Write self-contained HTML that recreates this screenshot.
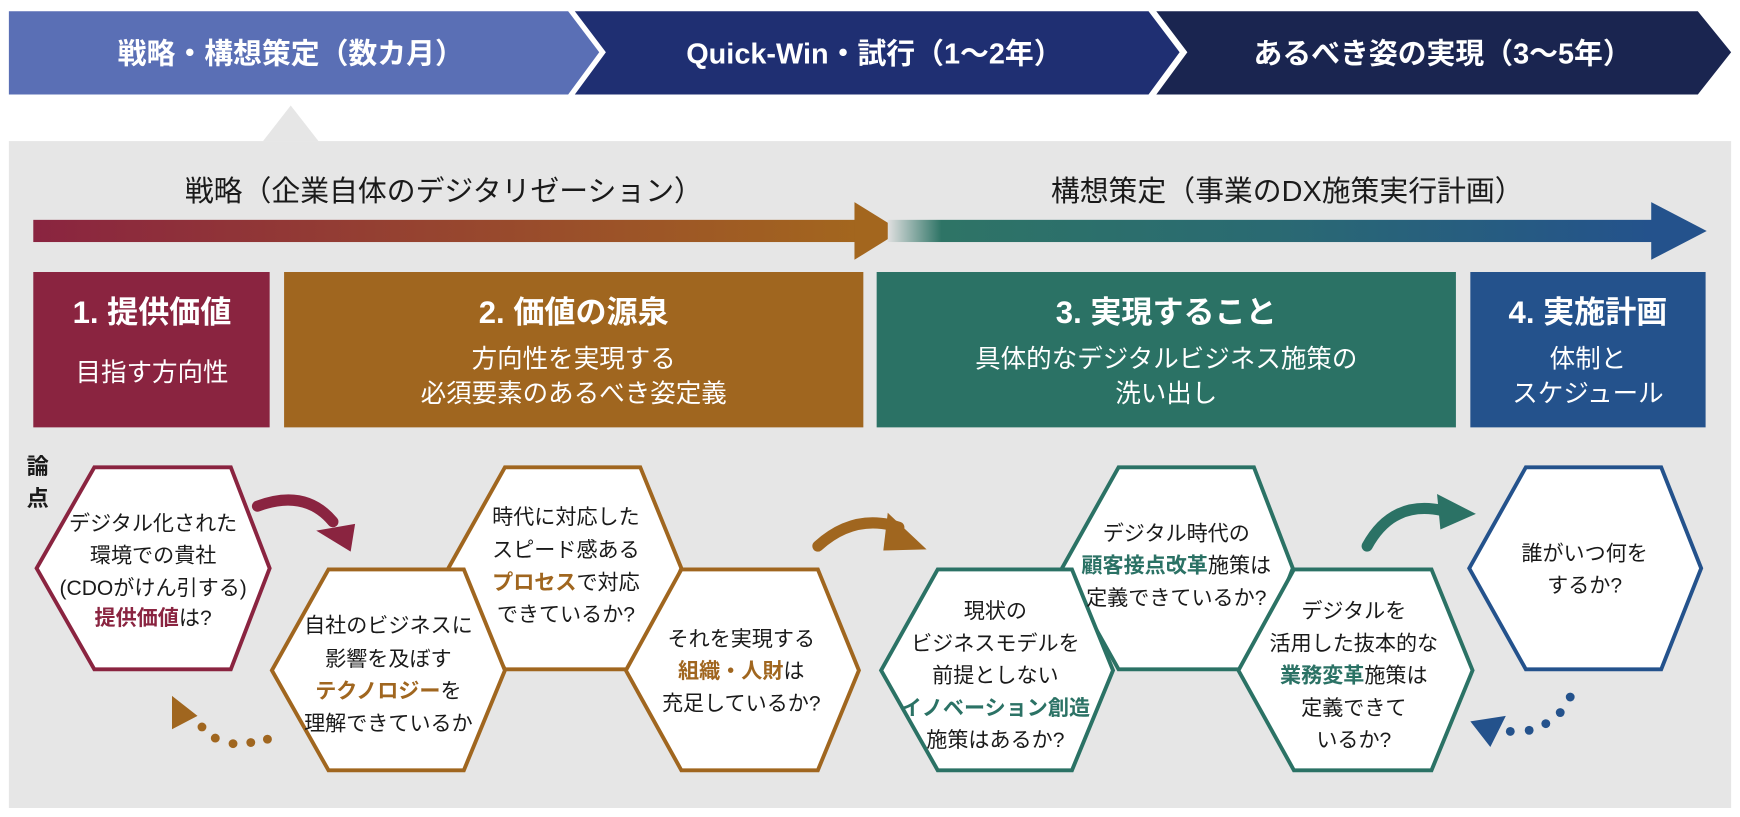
<!DOCTYPE html>
<html><head><meta charset="utf-8"><style>
html,body{margin:0;padding:0;background:#fff;}
svg{display:block;font-family:"Liberation Sans","Noto Sans CJK JP",sans-serif;}
.b{font-weight:bold}
</style></head><body>
<svg width="1740" height="817" viewBox="0 0 1568 736" xmlns="http://www.w3.org/2000/svg">
<defs>
<linearGradient id="g1" x1="0" x2="1"><stop offset="0" stop-color="#8a2440"/><stop offset="1" stop-color="#a3661e"/></linearGradient>
<linearGradient id="g2" x1="0" x2="1"><stop offset="0" stop-color="#e0e0e0"/><stop offset="0.07" stop-color="#2e7466"/><stop offset="0.5" stop-color="#2a6a72"/><stop offset="1" stop-color="#24528c"/></linearGradient>
</defs>
<polygon points="8,10 512,10 540,47 512,85 8,85" fill="#5a6fb5"/>
<polygon points="518,10 1035,10 1063,47 1035,85 518,85 546,47" fill="#1f2f72"/>
<polygon points="1042,10 1530,10 1560,47 1530,85 1042,85 1070,47" fill="#1a2550"/>
<g fill="#fff" class="b" font-size="26" text-anchor="middle">
<text x="262" y="57">戦略・構想策定（数カ月）</text>
<text x="788" y="57">Quick-Win・試行（1～2年）</text>
<text x="1300" y="57">あるべき姿の実現（3～5年）</text>
</g>
<rect x="8" y="127" width="1552" height="601" fill="#e6e6e6"/>
<polygon points="262,95 237,127 287,127" fill="#e6e6e6"/>
<g font-size="26" text-anchor="middle" fill="#1a1a1a">
<text x="400" y="181">戦略（企業自体のデジタリゼーション）</text>
<text x="1160" y="181">構想策定（事業のDX施策実行計画）</text>
</g>
<rect x="30" y="198" width="742" height="20" fill="url(#g1)"/>
<polygon points="770,182 812,208 770,234" fill="#a3661e"/>
<rect x="800" y="198" width="690" height="20" fill="url(#g2)"/>
<polygon points="1488,182 1538,208 1488,234" fill="#24528c"/>
<rect x="30" y="245" width="213" height="140" fill="#8a2440"/>
<rect x="256" y="245" width="522" height="140" fill="#a0661f"/>
<rect x="790" y="245" width="522" height="140" fill="#2b7265"/>
<rect x="1325" y="245" width="212" height="140" fill="#24528c"/>
<g fill="#fff" text-anchor="middle">
<text x="137" y="291" font-size="28" class="b">1. 提供価値</text>
<text x="137" y="343" font-size="23">目指す方向性</text>
<text x="517" y="291" font-size="28" class="b">2. 価値の源泉</text>
<text x="517" y="331" font-size="23">方向性を実現する</text>
<text x="517" y="362" font-size="23">必須要素のあるべき姿定義</text>
<text x="1051" y="291" font-size="28" class="b">3. 実現すること</text>
<text x="1051" y="331" font-size="23">具体的なデジタルビジネス施策の</text>
<text x="1051" y="362" font-size="23">洗い出し</text>
<text x="1431" y="291" font-size="28" class="b">4. 実施計画</text>
<text x="1431" y="331" font-size="23">体制と</text>
<text x="1431" y="362" font-size="23">スケジュール</text>
</g>
<text x="24" y="427" font-size="20" class="b" fill="#1a1a1a">論</text>
<text x="24" y="456" font-size="20" class="b" fill="#1a1a1a">点</text>
<g fill="#fff" stroke-width="3.5">
<polygon points="85,421 208,421 243,512 208,603 85,603 33,512" stroke="#8a2440"/>
<polygon points="455,421 577,421 614,512 577,603 455,603 404,512" stroke="#a0661f"/>
<polygon points="296,513 418,513 455,604 418,694 296,694 245,604" stroke="#a0661f"/>
<polygon points="614,513 737,513 774,604 737,694 614,694 564,604" stroke="#a0661f"/>
<polygon points="1008,421 1130,421 1165,512 1130,603 1008,603 957,512" stroke="#2b7265"/>
<polygon points="845,513 966,513 1003,604 966,694 845,694 794,604" stroke="#2b7265"/>
<polygon points="1166,513 1290,513 1327,604 1290,694 1166,694 1116,604" stroke="#2b7265"/>
<polygon points="1375,421 1497,421 1533,512 1497,603 1375,603 1324,512" stroke="#24528c"/>
</g>
<g font-size="19" text-anchor="middle" fill="#1a1a1a">
<text x="138" y="478">デジタル化された</text>
<text x="138" y="507">環境での貴社</text>
<text x="138" y="536">(CDOがけん引する)</text>
<text x="138" y="563"><tspan fill="#8a2440" class="b">提供価値</tspan>は?</text>
<text x="510" y="472">時代に対応した</text>
<text x="510" y="502">スピード感ある</text>
<text x="510" y="531"><tspan fill="#a0661f" class="b">プロセス</tspan>で対応</text>
<text x="510" y="560">できているか?</text>
<text x="350" y="570">自社のビジネスに</text>
<text x="350" y="600">影響を及ぼす</text>
<text x="350" y="629"><tspan fill="#a0661f" class="b">テクノロジー</tspan>を</text>
<text x="350" y="658">理解できているか</text>
<text x="668" y="582">それを実現する</text>
<text x="668" y="611"><tspan fill="#a0661f" class="b">組織・人財</tspan>は</text>
<text x="668" y="640">充足しているか?</text>
<text x="1060" y="487">デジタル時代の</text>
<text x="1060" y="516"><tspan fill="#2b7265" class="b">顧客接点改革</tspan>施策は</text>
<text x="1060" y="545">定義できているか?</text>
<text x="897" y="557">現状の</text>
<text x="897" y="586">ビジネスモデルを</text>
<text x="897" y="615">前提としない</text>
<text x="897" y="644"><tspan fill="#2b7265" class="b">イノベーション創造</tspan></text>
<text x="897" y="673">施策はあるか?</text>
<text x="1220" y="557">デジタルを</text>
<text x="1220" y="586">活用した抜本的な</text>
<text x="1220" y="615"><tspan fill="#2b7265" class="b">業務変革</tspan>施策は</text>
<text x="1220" y="644">定義できて</text>
<text x="1220" y="673">いるか?</text>
<text x="1428" y="505">誰がいつ何を</text>
<text x="1428" y="534">するか?</text>
</g>
<path d="M232,456 Q275,440 300,470" stroke="#8a2440" stroke-width="10" fill="none" stroke-linecap="round"/>
<polygon points="285,478 320,472 316,497" fill="#8a2440"/>
<path d="M737,492 Q770,462 810,475" stroke="#a0661f" stroke-width="10" fill="none" stroke-linecap="round"/>
<polygon points="800,462 835,495 796,496" fill="#a0661f"/>
<path d="M1232,492 Q1255,450 1300,460" stroke="#2b7265" stroke-width="10" fill="none" stroke-linecap="round"/>
<polygon points="1295,445 1330,463 1298,477" fill="#2b7265"/>
<polygon points="155,627 178,645 155,657" fill="#a0661f"/>
<g fill="#a0661f"><circle cx="182" cy="655" r="4"/><circle cx="194" cy="665" r="4"/><circle cx="210" cy="670" r="4"/><circle cx="226" cy="669" r="4"/><circle cx="241" cy="666" r="4"/></g>
<polygon points="1325,650 1357,645 1343,673" fill="#24528c"/>
<g fill="#24528c"><circle cx="1361" cy="659" r="4"/><circle cx="1378" cy="658" r="4"/><circle cx="1393" cy="652" r="4"/><circle cx="1406" cy="642" r="4"/><circle cx="1415" cy="628" r="4"/></g>
</svg>
</body></html>
